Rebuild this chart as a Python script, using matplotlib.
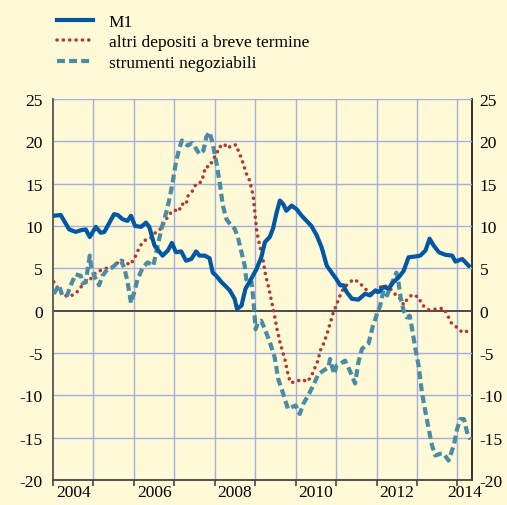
import numpy as np
import matplotlib
matplotlib.use("Agg")
import matplotlib.pyplot as plt

plt.rcParams['font.family'] = ['Liberation Serif', 'DejaVu Serif']
plt.rcParams['axes.unicode_minus'] = False

# M1
m1_t = [2004.00, 2004.19, 2004.40, 2004.56, 2004.69, 2004.81, 2004.91, 2005.06, 2005.18, 2005.27,
        2005.51, 2005.60, 2005.72, 2005.84, 2005.93, 2006.03, 2006.18, 2006.30, 2006.38, 2006.51,
        2006.59, 2006.71, 2006.84, 2006.94, 2007.04, 2007.17, 2007.29, 2007.42, 2007.54, 2007.62,
        2007.75, 2007.87, 2007.95, 2008.04, 2008.16, 2008.37, 2008.49, 2008.55, 2008.66, 2008.76,
        2008.86, 2009.03, 2009.15, 2009.24, 2009.36, 2009.44, 2009.53, 2009.61, 2009.69, 2009.77,
        2009.90, 2010.02, 2010.15, 2010.27, 2010.39, 2010.52, 2010.64, 2010.77, 2010.89, 2011.01,
        2011.10, 2011.18, 2011.26, 2011.39, 2011.55, 2011.72, 2011.84, 2011.97, 2012.05, 2012.17,
        2012.30, 2012.42, 2012.54, 2012.67, 2012.79, 2012.96, 2013.08, 2013.21, 2013.31, 2013.41,
        2013.54, 2013.70, 2013.87, 2013.95, 2014.12, 2014.28]
m1_v = [11.2, 11.3, 9.6, 9.3, 9.5, 9.6, 8.7, 9.9, 9.2, 9.3,
        11.4, 11.3, 10.8, 10.6, 11.2, 10.0, 9.9, 10.4, 9.9, 7.7,
        7.2, 6.5, 7.1, 8.0, 6.9, 7.0, 5.9, 6.1, 7.0, 6.5,
        6.5, 6.2, 4.5, 4.1, 3.4, 2.4, 1.4, 0.2, 0.6, 2.6,
        3.4, 4.9, 6.3, 8.1, 8.7, 9.7, 11.6, 13.0, 12.6, 11.8,
        12.4, 12.0, 11.2, 10.6, 10.0, 8.9, 7.5, 5.3, 4.5, 3.7,
        3.0, 3.0, 2.2, 1.4, 1.3, 2.0, 1.8, 2.4, 2.2, 2.8,
        2.6, 3.4, 3.9, 4.7, 6.3, 6.4, 6.5, 7.1, 8.5, 7.7,
        6.9, 6.6, 6.5, 5.8, 6.1, 5.3]

# altri depositi a breve termine
dep_t = [2004.02, 2004.13, 2004.27, 2004.41, 2004.56, 2004.69, 2004.81, 2004.94, 2005.06, 2005.20,
         2005.31, 2005.51, 2005.64, 2005.74, 2005.90, 2006.01, 2006.09, 2006.19, 2006.30, 2006.40,
         2006.53, 2006.67, 2006.80, 2006.88, 2007.00, 2007.11, 2007.18, 2007.29, 2007.33, 2007.46,
         2007.54, 2007.67, 2007.72, 2007.77, 2007.87, 2007.95, 2008.04, 2008.12, 2008.24, 2008.27,
         2008.38, 2008.52, 2008.60, 2008.68, 2008.74, 2008.80, 2008.86, 2008.95, 2008.99, 2009.04,
         2009.11, 2009.19, 2009.26, 2009.32, 2009.40, 2009.48, 2009.53, 2009.61, 2009.67, 2009.73,
         2009.81, 2009.87, 2010.00, 2010.15, 2010.29, 2010.39, 2010.48, 2010.56, 2010.60, 2010.70,
         2010.81, 2010.92, 2011.00, 2011.08, 2011.18, 2011.30, 2011.43, 2011.55, 2011.72, 2011.84,
         2012.01, 2012.13, 2012.31, 2012.42, 2012.57, 2012.67, 2012.75, 2012.88, 2013.04, 2013.12,
         2013.29, 2013.50, 2013.66, 2013.76, 2013.84, 2013.99, 2014.13, 2014.32]
dep_v = [3.4, 2.6, 1.8, 1.7, 2.0, 2.8, 3.3, 3.8, 4.5, 4.8,
         5.0, 5.2, 5.9, 5.9, 5.4, 6.1, 7.0, 7.9, 8.4, 8.5,
         9.2, 9.7, 10.8, 11.4, 11.9, 11.7, 12.6, 12.5, 13.5, 14.2,
         15.0, 15.2, 16.0, 17.0, 17.0, 17.8, 18.5, 19.4, 19.3, 19.7,
         19.3, 19.6, 18.7, 17.7, 16.8, 15.9, 15.4, 13.6, 11.6, 9.3,
         7.7, 6.1, 4.1, 3.0, 1.2, -0.6, -2.0, -3.7, -4.7, -5.7,
         -7.5, -8.5, -8.4, -8.1, -8.4, -7.7, -6.7, -5.8, -4.8, -3.8,
         -2.2, -0.4, 0.6, 1.6, 2.6, 3.2, 3.7, 3.4, 2.6, 2.0,
         2.2, 3.0, 2.8, 2.1, 1.5, 0.7, 1.3, 1.9, 1.6, 0.7,
         0.1, 0.2, 0.3, -0.6, -1.4, -2.0, -2.6, -2.3]

# strumenti negoziabili
neg_t = [2004.02, 2004.15, 2004.23, 2004.35, 2004.44, 2004.56, 2004.69, 2004.73, 2004.81, 2004.91,
         2004.94, 2005.02, 2005.14, 2005.22, 2005.35, 2005.47, 2005.60, 2005.68, 2005.76, 2005.84,
         2005.93, 2006.01, 2006.09, 2006.22, 2006.34, 2006.42, 2006.48, 2006.59, 2006.70, 2006.80,
         2006.88, 2006.96, 2007.04, 2007.13, 2007.19, 2007.33, 2007.44, 2007.54, 2007.62, 2007.72,
         2007.79, 2007.87, 2007.95, 2008.04, 2008.12, 2008.20, 2008.29, 2008.41, 2008.49, 2008.57,
         2008.66, 2008.74, 2008.78, 2008.82, 2008.91, 2008.96, 2009.01, 2009.07, 2009.15, 2009.24,
         2009.36, 2009.48, 2009.57, 2009.65, 2009.73, 2009.81, 2009.90, 2010.00, 2010.10, 2010.19,
         2010.31, 2010.43, 2010.56, 2010.68, 2010.81, 2010.85, 2010.95, 2011.01, 2011.10, 2011.22,
         2011.34, 2011.47, 2011.55, 2011.64, 2011.80, 2011.91, 2012.01, 2012.09, 2012.17, 2012.26,
         2012.35, 2012.42, 2012.49, 2012.54, 2012.60, 2012.67, 2012.75, 2012.82, 2012.88, 2012.96,
         2013.04, 2013.12, 2013.21, 2013.29, 2013.37, 2013.45, 2013.58, 2013.66, 2013.78, 2013.91,
         2013.99, 2014.07, 2014.16, 2014.24, 2014.32]
neg_v = [2.0, 3.0, 1.8, 1.8, 3.0, 4.3, 4.1, 3.2, 3.4, 6.5,
         5.3, 4.1, 3.0, 4.1, 4.9, 5.1, 5.7, 5.9, 5.1, 3.5,
         0.9, 2.2, 3.7, 5.1, 5.7, 5.5, 5.3, 7.7, 10.0, 11.6,
         13.2, 15.2, 17.5, 19.3, 20.1, 19.5, 19.8, 19.1, 18.5, 18.9,
         20.5, 21.1, 19.7, 17.5, 15.2, 12.4, 10.8, 10.0, 9.7, 8.7,
         6.9, 5.3, 3.7, 3.2, 3.4, 1.0, -2.2, -1.4, -1.2, -2.2,
         -3.7, -5.5, -8.1, -9.2, -10.4, -11.6, -11.4, -11.2, -12.2, -11.0,
         -10.0, -8.9, -7.5, -7.1, -6.7, -5.7, -7.5, -6.5, -6.3, -5.9,
         -7.1, -8.6, -6.1, -4.5, -3.9, -1.8, -0.4, 0.6, 2.4, 1.8,
         3.0, 3.7, 4.5, 3.4, 1.4, 0.0, -0.8, -0.6, -2.2, -4.5,
         -6.5, -9.6, -12.0, -14.0, -15.9, -17.1, -16.9, -16.9, -17.7, -15.9,
         -14.0, -12.8, -12.8, -14.4, -15.2]

years = list(range(2004, 2015))
year_labels = ['2004', '2006', '2008', '2010', '2012', '2014']
label_pos = [2004.5, 2006.5, 2008.5, 2010.5, 2012.5, 2014.18]
y_ticks = list(range(-20, 30, 5))

bg = '#fef9d6'
blue = '#0057a3'
red = '#b03a33'
teal = '#4a8ca3'
grid_c = '#a4afdf'

fig = plt.figure(figsize=(5.07, 5.06), dpi=100, facecolor=bg)
ax = fig.add_axes([0.1045, 0.0494, 0.8265, 0.753])
ax.set_facecolor(bg)

ax.set_xlim(2004, 2014.36)
ax.set_ylim(-20, 25)

for y in y_ticks[1:]:
    if y != 0:
        ax.axhline(y, color=grid_c, lw=1.0, zorder=1)
for yr in years[1:]:
    ax.axvline(yr, color=grid_c, lw=1.0, zorder=1)
ax.axhline(0, color='#4a4a4a', lw=1.4, zorder=2)

ax.plot(dep_t, dep_v, color=red, lw=2.6, dashes=(0.01, 1.75), dash_capstyle='round',
        label='altri depositi a breve termine', zorder=3)
ax.plot(neg_t, neg_v, color=teal, lw=3.0, dashes=(1.9, 1.0),
        label='strumenti negoziabili', zorder=4)
ax.plot(m1_t, m1_v, color=blue, lw=3.0, label='M1', zorder=5, solid_joinstyle='round')

ax.spines['top'].set_visible(False)
ax.spines['right'].set_visible(False)
ax.spines['left'].set_color('#555555')
ax.spines['bottom'].set_color('#444444')
for s in ['left', 'bottom']:
    ax.spines[s].set_linewidth(1.3)

ax.set_xticks(years)
ax.set_xticklabels([])
ax.set_xticks(label_pos, minor=True)
ax.set_xticklabels(year_labels, minor=True, fontsize=12.5)
ax.tick_params(axis='x', which='major', direction='out', length=4, width=1.2, color='#444444')
ax.tick_params(axis='x', which='minor', length=0, pad=3)

ax.set_yticks(y_ticks)
ax.tick_params(axis='y', length=0, labelsize=12.5, pad=7.5)

# right-hand scale, same values
ax_r = ax.secondary_yaxis('right')
ax_r.set_yticks(y_ticks)
ax_r.tick_params(length=0, labelsize=12.5, pad=5.5)
ax_r.spines['right'].set_color('#222222')
ax_r.spines['right'].set_linewidth(1.3)

h = ax.get_legend_handles_labels()[0]
leg = fig.legend([h[2], h[0], h[1]], ['M1', 'altri depositi a breve termine', 'strumenti negoziabili'],
                 loc='upper left', bbox_to_anchor=(0.098, 0.985), frameon=False, fontsize=12.5,
                 handlelength=2.1, handletextpad=0.9, labelspacing=0.25, borderaxespad=0)

fig.savefig('out.png', dpi=100, facecolor=bg)
